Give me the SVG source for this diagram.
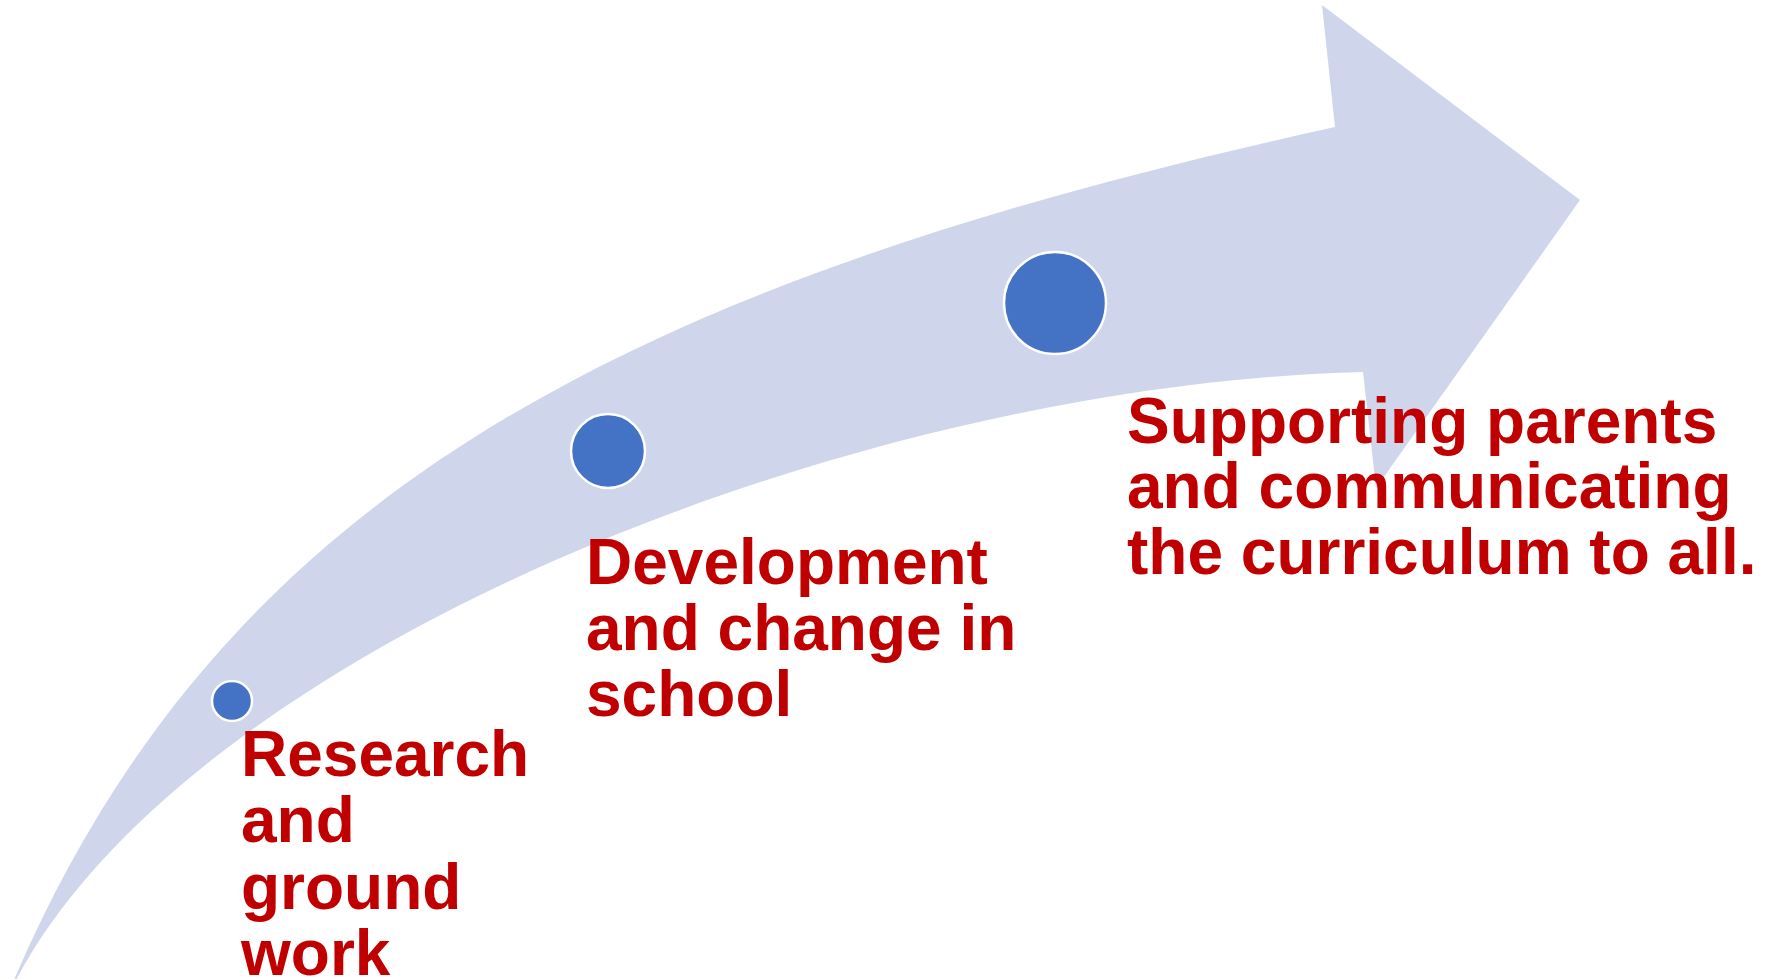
<svg xmlns="http://www.w3.org/2000/svg" width="1777" height="979" viewBox="0 0 1777 979">
  <style>
    .arrow { fill: #CFD5EA; stroke: none; }
    .dot { fill: #4472C4; stroke: #FFFFFF; stroke-width: 2.5; }
    .label { font-family: "Liberation Sans", Arial, sans-serif; font-weight: bold; font-size: 64px; fill: #C00000; }
  </style>
  <rect x="0" y="0" width="1777" height="979" fill="#FFFFFF"/>
  <g id="arrow">
    <path class="arrow" d="M 14,980 C 220,500 615,285 1335,127 L 1322,5 L 1580,200 L 1376,488 L 1363,372 C 850,385 190,650 16,980 Z"/>
  </g>
  <g id="connectors"></g>
  <g id="step1">
    <circle class="dot" cx="232" cy="701" r="20"/>
    <text class="label" x="241" y="776">Research</text>
    <text class="label" x="241" y="842">and</text>
    <text class="label" x="241" y="909">ground</text>
    <text class="label" x="241" y="975">work</text>
  </g>
  <g id="step2">
    <circle class="dot" cx="608" cy="451" r="37"/>
    <text class="label" x="586" y="584">Development</text>
    <text class="label" x="586" y="650">and change in</text>
    <text class="label" x="586" y="716">school</text>
  </g>
  <g id="step3">
    <circle class="dot" cx="1055" cy="303" r="51"/>
    <text class="label" x="1127" y="443">Supporting parents</text>
    <text class="label" x="1127" y="508">and communicating</text>
    <text class="label" x="1127" y="574">the curriculum to all.</text>
  </g>
</svg>
